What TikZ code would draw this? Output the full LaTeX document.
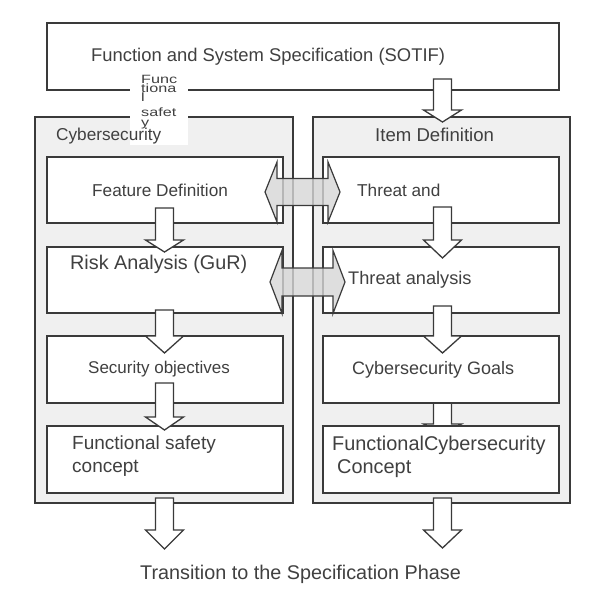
\documentclass[tikz,border=0pt]{standalone}
\usepackage{fontspec}
\setmainfont{Liberation Sans}
\definecolor{ln}{HTML}{3A3A3A}
\definecolor{txt}{HTML}{404040}
\definecolor{panelfill}{HTML}{F0F0F0}
\definecolor{dblfill}{HTML}{D6D6D6}
\newcommand{\fs}[1]{\fontsize{#1}{#1}\selectfont}
\newcommand{\dnarrow}[4]{%
  \draw[blockarr] ({#1-9},#2) -- ({#1-9},#3) -- ({#1-19},#3) -- (#1,#4) -- ({#1+19},#3) -- ({#1+9},#3) -- ({#1+9},#2) -- cycle;}
\newcommand{\dblarrow}[7]{% xtipL xbaseL xbaseR xtipR ymid shafthalf headhalf
  \draw[dblarr] (#1,#5) -- (#2,{#5-#7}) -- (#2,{#5-#6}) -- (#3,{#5-#6}) -- (#3,{#5-#7}) -- (#4,#5)
    -- (#3,{#5+#7}) -- (#3,{#5+#6}) -- (#2,{#5+#6}) -- (#2,{#5+#7}) -- cycle;}
\begin{document}
\begin{tikzpicture}[x=1pt,y=-1pt,
  panel/.style={draw=ln,line width=1.2pt,fill=panelfill},
  box/.style={draw=ln,line width=1.3pt,fill=white},
  blockarr/.style={draw=ln,line width=1.3pt,fill=white,line join=miter},
  dblarr/.style={draw=ln,line width=1.2pt,fill=dblfill,fill opacity=0.8},
  lbl/.style={anchor=base west,inner sep=0pt,text=txt},
  vlbl/.style={anchor=base west,inner sep=0pt,text=txt,font=\fs{12}}]
\useasboundingbox (0,0) rectangle (596,591);
% panels
\draw[panel] (35,117) rectangle (293,503);
\draw[panel] (313,117) rectangle (570,503);
% top box
\draw[box] (47,23) rectangle (559,90);
% hidden arrow behind FCC box
\dnarrow{442.5}{397}{424}{434}
% boxes
\draw[box] (47,157) rectangle (283,223);
\draw[box] (47,247) rectangle (283,313);
\draw[box] (47,336) rectangle (283,403);
\draw[box] (47,426) rectangle (283,493);
\draw[box] (323,157) rectangle (559,223);
\draw[box] (323,247) rectangle (559,313);
\draw[box] (323,336) rectangle (559,403);
\draw[box] (323,426) rectangle (559,493);
% white cover for vertical label
\fill[white] (130,77) rectangle (188,145);
% double arrows
\dblarrow{265}{277}{328}{340}{192}{13.5}{30}
\dblarrow{270}{282}{333}{345}{282}{14}{31.5}
% down arrows
\dnarrow{442.5}{79}{110}{122}
\dnarrow{164.5}{208}{240}{252}
\dnarrow{164.5}{310}{336}{353}
\dnarrow{164.5}{383}{417}{430}
\dnarrow{164.5}{498}{530}{549}
\dnarrow{442.5}{207}{240}{258}
\dnarrow{442.5}{306}{336}{353}
\dnarrow{442.5}{498}{530}{548}
% texts
\node[lbl] (title) at (91,62) {\fs{18.4}Function and System Specification (SOTIF)};
\node[vlbl] (fsv1) at (141,84) {\scalebox{1.35}[1]{Func}};
\node[vlbl] (fsv2) at (141,93) {\scalebox{1.35}[1]{tiona}};
\node[vlbl] (fsv3) at (141,102) {\scalebox{1.35}[1]{l}};
\node[vlbl] (fsv4) at (141,116) {\scalebox{1.35}[1]{safet}};
\node[vlbl] (fsv5) at (141,126) {\scalebox{1.35}[1]{y}};
\node[lbl] (cyb) at (56,140) {\fs{17.2}Cybersecurity};
\node[lbl] (itd) at (375,141) {\fs{18.6}Item Definition};
\node[lbl] (fd) at (92,196) {\fs{17.2}Feature Definition};
\node[lbl] (ta) at (357,196) {\fs{17.2}Threat and};
\node[lbl] (ra) at (70,269) {\fs{19.8}Risk Analysis (GuR)};
\node[lbl] (tha) at (348,284) {\fs{18.2}Threat analysis};
\node[lbl] (so) at (88,373) {\fs{17}Security objectives};
\node[lbl] (cg) at (352,374) {\fs{18}Cybersecurity Goals};
\node[lbl] (fsc1) at (72,449) {\fs{19}Functional safety};
\node[lbl] (fsc2) at (72,472) {\fs{19}concept};
\node[lbl] (fcc1) at (332,450) {\fs{19.9}FunctionalCybersecurity};
\node[lbl] (fcc2) at (337,473) {\fs{19.9}Concept};
\node[lbl] (trans) at (140,579) {\fs{19.8}Transition to the Specification Phase};
\end{tikzpicture}
\end{document}
